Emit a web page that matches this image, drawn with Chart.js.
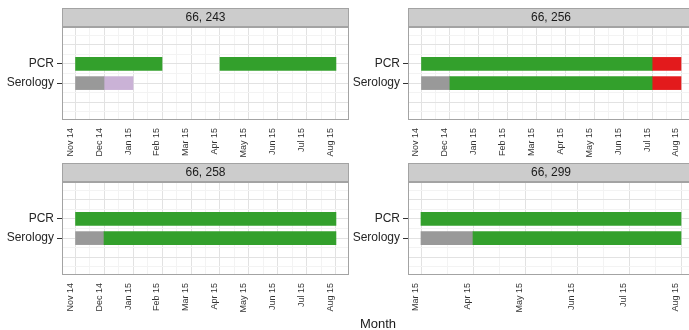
<!DOCTYPE html>
<html>
<head>
<meta charset="utf-8">
<script src="https://cdn.jsdelivr.net/npm/chart.js@4/dist/chart.umd.min.js"></script>
<style>
  html, body { margin: 0; padding: 0; background: #ffffff; overflow: hidden; width: 689px; height: 330px; }
  .panel { position: absolute; }
  #xtitle { position: absolute; left: 318px; width: 120px; top: 316px; text-align: center;
            font: 13px "Liberation Sans", Arial, sans-serif; color: #1a1a1a; }
</style>
</head>
<body>
<div class="panel" style="left:0px;top:0px"><canvas id="p1" width="352" height="160"></canvas></div>
<div class="panel" style="left:345px;top:0px"><canvas id="p2" width="352" height="160"></canvas></div>
<div class="panel" style="left:0px;top:155px"><canvas id="p3" width="352" height="160"></canvas></div>
<div class="panel" style="left:345px;top:155px"><canvas id="p4" width="352" height="160"></canvas></div>
<div id="xtitle">Month</div>
<script>
// Month axis labels (one tick per month)
const monthLabels = ['Nov 14', 'Dec 14', 'Jan 15', 'Feb 15', 'Mar 15', 'Apr 15', 'May 15', 'Jun 15', 'Jul 15', 'Aug 15'];

// Assays on the vertical axis
const assays = ['Serology', 'PCR'];

// Facet titles
const panelTitles = ['66, 243', '66, 256', '66, 258', '66, 299'];

// Result periods per assay: [from month, to month, result]
const pcr243  = [['Nov 14', 'Feb 15', 'positive'], ['Apr 15', 'Aug 15', 'positive']];
const sero243 = [['Nov 14', 'Dec 14', 'none'], ['Dec 14', 'Jan 15', 'equivocal']];

const pcr256  = [['Nov 14', 'Jul 15', 'positive'], ['Jul 15', 'Aug 15', 'negative']];
const sero256 = [['Nov 14', 'Dec 14', 'none'], ['Dec 14', 'Jul 15', 'positive'], ['Jul 15', 'Aug 15', 'negative']];

const pcr258  = [['Nov 14', 'Aug 15', 'positive']];
const sero258 = [['Nov 14', 'Dec 14', 'none'], ['Dec 14', 'Aug 15', 'positive']];

const pcr299  = [['Mar 15', 'Aug 15', 'positive']];
const sero299 = [['Mar 15', 'Apr 15', 'none'], ['Apr 15', 'Aug 15', 'positive']];

// Month span shown on each facet
const panelRanges = [['Nov 14', 'Aug 15'], ['Nov 14', 'Aug 15'], ['Nov 14', 'Aug 15'], ['Mar 15', 'Aug 15']];

const resultColors = {
  none: '#999999',
  positive: '#33a02c',
  negative: '#e31a1c',
  equivocal: '#cab2d6'
};

const FONT = '"Liberation Sans", Arial, sans-serif';
const GRID_MAJOR = '#e2e2e2';
const GRID_MINOR = '#f3f3f3';
const FRAME = '#a3a3a3';

// Draws the grey facet strip with its title and the panel frame
const stripPlugin = {
  id: 'strip',
  afterDraw(chart, args, opts) {
    const { left, top, right, bottom } = chart.chartArea;
    const ctx = chart.ctx;
    ctx.save();
    ctx.lineWidth = 1;
    ctx.strokeStyle = FRAME;
    ctx.strokeRect(Math.round(left) + 0.5, Math.round(top) + 0.5, Math.round(right - left) - 1, Math.round(bottom - top) - 1);
    const h = 19;
    ctx.fillStyle = '#cccccc';
    ctx.fillRect(Math.round(left), Math.round(top) - h, Math.round(right - left), h);
    ctx.strokeRect(Math.round(left) + 0.5, Math.round(top) - h + 0.5, Math.round(right - left) - 1, h - 1);
    ctx.fillStyle = '#1a1a1a';
    ctx.font = '12px ' + FONT;
    ctx.textAlign = 'center';
    ctx.textBaseline = 'middle';
    ctx.fillText(opts.text, (left + right) / 2, top - h / 2 + 0.5);
    ctx.restore();
  }
};

function buildDatasets(pcr, sero) {
  const byResult = {};
  const add = (rows, assay) => {
    const yVal = assays.indexOf(assay) + 1;
    rows.forEach(([from, to, result]) => {
      (byResult[result] = byResult[result] || []).push({
        x: [monthLabels.indexOf(from), monthLabels.indexOf(to)],
        y: yVal
      });
    });
  };
  add(pcr, 'PCR');
  add(sero, 'Serology');
  return Object.keys(byResult).map(result => ({
    label: result,
    data: byResult[result],
    backgroundColor: resultColors[result],
    borderWidth: 0,
    barThickness: 13,
    grouped: false
  }));
}

function buildPanel(canvasId, title, pcr, sero, range, axisWidth) {
  const lo = monthLabels.indexOf(range[0]);
  const hi = monthLabels.indexOf(range[1]);
  const pad = (hi - lo) * 0.05;

  const xTicks = [];
  for (let v = lo; v <= hi; v += 0.5) xTicks.push({ value: v });
  const yTicks = [];
  for (let v = -0.5; v <= 3.5; v += 0.5) yTicks.push({ value: v });

  new Chart(document.getElementById(canvasId), {
    type: 'bar',
    data: { datasets: buildDatasets(pcr, sero) },
    plugins: [stripPlugin],
    options: {
      indexAxis: 'y',
      responsive: false,
      animation: false,
      devicePixelRatio: 1,
      layout: { padding: { top: 27, right: 3, left: 0, bottom: 0 } },
      plugins: {
        legend: { display: false },
        tooltip: { enabled: false },
        strip: { text: title }
      },
      scales: {
        x: {
          type: 'linear',
          min: lo - pad,
          max: hi + pad,
          offset: false,
          border: { display: false },
          grid: {
            offset: false,
            lineWidth: 1,
            color: c => Number.isInteger(c.tick.value) ? GRID_MAJOR : GRID_MINOR,
            tickColor: 'rgba(0,0,0,0)',
            tickLength: 4
          },
          ticks: {
            autoSkip: false,
            minRotation: 90,
            maxRotation: 90,
            labelOffset: -5,
            padding: 4,
            color: '#333333',
            font: { size: 9, family: FONT },
            callback: v => Number.isInteger(v) ? monthLabels[v] : ''
          },
          afterBuildTicks: s => { s.ticks = xTicks.map(t => ({ value: t.value })); },
          afterFit: s => { s.height = 40; }
        },
        y: {
          type: 'linear',
          min: -0.92,
          max: 3.92,
          offset: false,
          border: { display: false },
          grid: {
            offset: false,
            lineWidth: 1,
            color: c => Number.isInteger(c.tick.value) ? GRID_MAJOR : GRID_MINOR,
            tickColor: c => (c.tick.value === 1 || c.tick.value === 2) ? '#333333' : 'rgba(0,0,0,0)',
            tickLength: 5
          },
          ticks: {
            autoSkip: false,
            padding: 3,
            color: '#262626',
            font: { size: 12, family: FONT },
            callback: v => (v === 1 || v === 2) ? assays[v - 1] : ''
          },
          afterBuildTicks: s => { s.ticks = yTicks.map(t => ({ value: t.value })); },
          afterFit: s => { s.width = axisWidth; }
        }
      }
    }
  });
}

buildPanel('p1', panelTitles[0], pcr243, sero243, panelRanges[0], 62);
buildPanel('p2', panelTitles[1], pcr256, sero256, panelRanges[1], 63);
buildPanel('p3', panelTitles[2], pcr258, sero258, panelRanges[2], 62);
buildPanel('p4', panelTitles[3], pcr299, sero299, panelRanges[3], 63);
</script>
</body>
</html>
